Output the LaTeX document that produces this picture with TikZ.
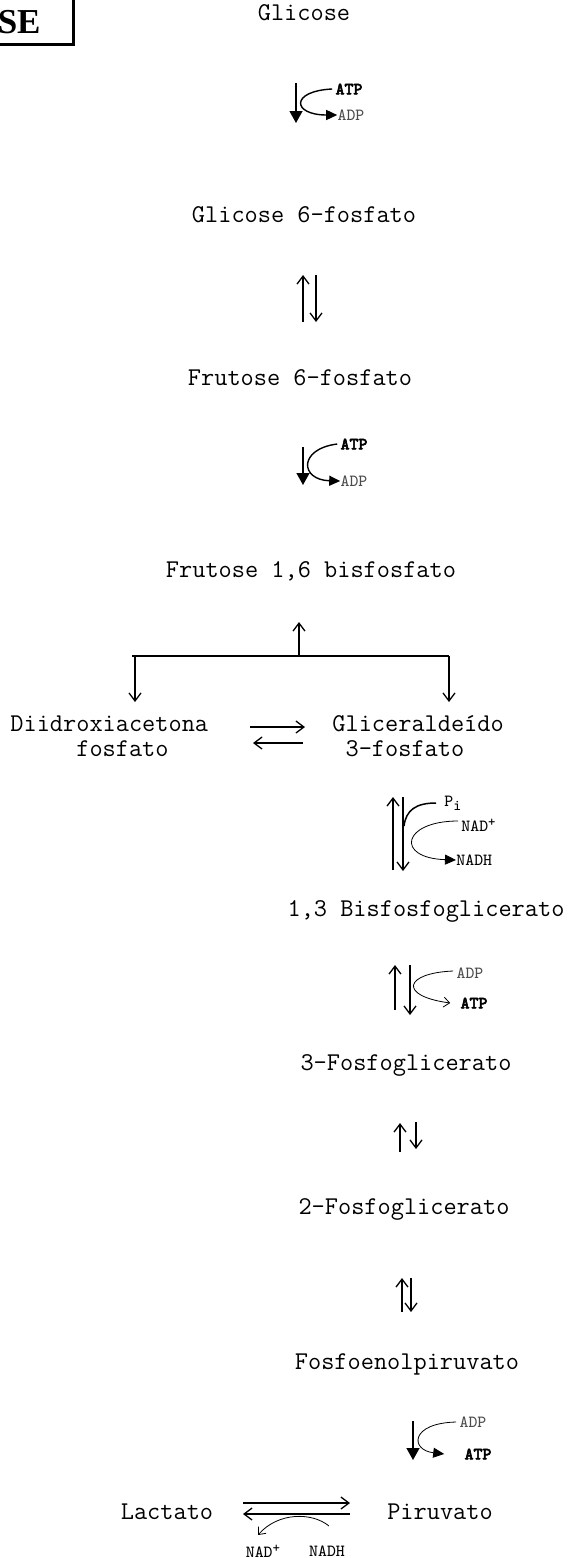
\documentclass[tikz,border=0pt]{standalone}
\usepackage{fontspec}
\newfontfamily\titlefont{Liberation Serif}
\usetikzlibrary{arrows.meta}
\newcommand\heavytxt[1]{\special{pdf:literal 2 Tr 0.3 w}#1\special{pdf:literal 0 Tr}}
\begin{document}
\begin{tikzpicture}[x=0.5pt,y=-0.5pt,
  met/.style={font=\ttfamily\fontsize{12.8}{12.6}\selectfont, inner sep=0pt},
  cof/.style={font=\ttfamily\fontsize{8.5}{9}\selectfont, inner sep=0pt},
  cofb/.style={font=\ttfamily\fontsize{8.5}{9}\selectfont, inner sep=0pt},
  cofg/.style={cof, text=black!70},
  rx/.style={line width=0.65pt},
  eq/.style={rx, -{Straight Barb[length=4pt,width=6pt,line width=0.65pt]}},
  irr/.style={rx, -{Triangle[length=6pt,width=6.5pt]}},
  cfill/.style={line width=0.7pt, -{Triangle[length=5.5pt,width=5pt]}},
  cthin/.style={line width=0.4pt, -{Triangle[length=5.5pt,width=5pt]}},
  copen/.style={line width=0.4pt, -{Straight Barb[length=3pt,width=5pt,line width=0.4pt]}},
]
\useasboundingbox (0,0) rectangle (581,1558);
% title box (cut off)
\draw[line width=1.5pt] (-10,-10) rectangle (73,44);
\node[anchor=east, inner sep=0pt, font=\titlefont\fontsize{17.5}{18}\selectfont\bfseries] (title) at (41,22) {SE};

% metabolites
\node[met] (glc) at (304,13) {Glicose};
\node[met] (g6p) at (304,215) {Glicose 6-fosfato};
\node[met] (f6p) at (300,378) {Frutose 6-fosfato};
\node[met] (f16) at (311,571) {Frutose 1,6 bisfosfato};
\node[met, anchor=west, align=left] (dhap) at (10,736) {Diidroxiacetona\\\phantom{xxxxx}fosfato};
\node[met, anchor=west, align=left] (g3p) at (332,736) {Gliceralde\'ido\\\phantom{x}3-fosfato};
\node[met] (bpg) at (426,911) {1,3 Bisfosfoglicerato};
\node[met] (pg3) at (406,1065) {3-Fosfoglicerato};
\node[met] (pg2) at (404,1209) {2-Fosfoglicerato};
\node[met] (pep) at (407,1364) {Fosfoenolpiruvato};
\node[met] (lac) at (167,1512) {Lactato};
\node[met] (pyr) at (440,1512) {Piruvato};

% step 1: Glicose -> G6P
\coordinate (s1a) at (296,83); \coordinate (s1b) at (296,123);
\draw[irr] (s1a) -- (s1b);
\node[cofb] (atp1) at (349,89) {\heavytxt{ATP}};
\node[cofg] (adp1) at (351,115) {ADP};
\draw[cfill] (atp1.west) ++(-3,0) coordinate (c1a) .. controls (290,91) and (292,115) .. (adp1.west);

% step 2: G6P <-> F6P
\coordinate (s2a) at (303,322); \coordinate (s2b) at (303,275);
\coordinate (s2c) at (316,275); \coordinate (s2d) at (316,322);
\draw[eq] (s2a) -- (s2b);
\draw[eq] (s2c) -- (s2d);

% step 3: F6P -> F1,6BP
\coordinate (s3a) at (303,447); \coordinate (s3b) at (303,485);
\draw[irr] (s3a) -- (s3b);
\node[cofb] (atp2) at (354,444) {\heavytxt{ATP}};
\node[cofg] (adp2) at (354,481) {ADP};
\draw[cfill] (atp2.west) ++(-3,0) coordinate (c2a) .. controls (298,449) and (300,480) .. (adp2.west);

% step 4: split
\coordinate (s4a) at (299,656); \coordinate (s4b) at (299,622);
\coordinate (s4l) at (132,656); \coordinate (s4r) at (449,656);
\coordinate (s4ld) at (135,702); \coordinate (s4lu) at (135,656);
\coordinate (s4rd) at (449,702);
\draw[eq] (s4a) -- (s4b);
\draw[rx] (s4l) -- (s4r);
\draw[eq] (s4lu) -- (s4ld);
\draw[eq] (s4r) -- (s4rd);

% DHAP <-> G3P
\coordinate (e1a) at (250,727); \coordinate (e1b) at (305,727);
\coordinate (e2a) at (303,743); \coordinate (e2b) at (253,743);
\draw[eq] (e1a) -- (e1b);
\draw[eq] (e2a) -- (e2b);

% G3P <-> 1,3BPG
\coordinate (s5a) at (393,870); \coordinate (s5b) at (393,797);
\coordinate (s5c) at (403,797); \coordinate (s5d) at (403,871);
\draw[eq] (s5a) -- (s5b);
\draw[eq] (s5c) -- (s5d);
\node[cof, anchor=west] (pi) at (444,803) {P\raisebox{-0.5ex}{\fontsize{7.5}{7}\selectfont i}};
\node[cof, anchor=west] (nad1) at (461,825) {NAD\raisebox{0.7ex}{\fontsize{7}{7}\selectfont +}};
\node[cof, anchor=west] (nadh1) at (456,860) {NADH};
\draw[line width=0.75pt] (pi.west) ++(-8,0) coordinate (c5a) .. controls (416,803) and (406,810) .. (404,826);
\coordinate (c5b) at (458,821);
\draw[cthin] (c5b) .. controls (402,821) and (395,858) .. (nadh1.west);

% 1,3BPG <-> 3PG
\coordinate (s6a) at (395,1010); \coordinate (s6b) at (395,965);
\coordinate (s6c) at (410,965); \coordinate (s6d) at (410,1015);
\draw[eq] (s6a) -- (s6b);
\draw[eq] (s6c) -- (s6d);
\node[cofg] (adp3) at (470,973) {ADP};
\node[cofb] (atp3) at (474,1003) {\heavytxt{ATP}};
\draw[copen] (adp3.west) ++(-3,-2) coordinate (c6a) .. controls (404,973) and (398,996) .. ([xshift=-5]atp3.west);

% 3PG <-> 2PG
\coordinate (s7a) at (400,1152); \coordinate (s7b) at (400,1123);
\coordinate (s7c) at (416,1122); \coordinate (s7d) at (416,1149);
\draw[eq] (s7a) -- (s7b);
\draw[eq] (s7c) -- (s7d);

% 2PG <-> PEP
\coordinate (s8a) at (402,1312); \coordinate (s8b) at (402,1278);
\coordinate (s8c) at (411,1278); \coordinate (s8d) at (411,1312);
\draw[eq] (s8a) -- (s8b);
\draw[eq] (s8c) -- (s8d);

% PEP -> Piruvato
\coordinate (s9a) at (413,1421); \coordinate (s9b) at (413,1460);
\draw[irr] (s9a) -- (s9b);
\node[cofg] (adp4) at (473,1422) {ADP};
\node[cofb] (atp4) at (478,1454) {\heavytxt{ATP}};
\draw[cthin] (adp4.west) ++(-3,0) coordinate (c9a) .. controls (410,1423) and (410,1450) .. ([xshift=-10]atp4.west);

% Lactato <-> Piruvato
\coordinate (l1a) at (243,1503); \coordinate (l1b) at (350,1503);
\coordinate (l2a) at (350,1514); \coordinate (l2b) at (243,1514);
\draw[eq] (l1a) -- (l1b);
\draw[eq] (l2a) -- (l2b);
\node[cof] (nad2) at (263,1551) {NAD\raisebox{0.7ex}{\fontsize{7}{7}\selectfont +}};
\node[cof] (nadh2) at (327,1551) {NADH};
\coordinate (lc) at (329,1526);
\draw[copen] (lc) .. controls (312,1512) and (278,1512) .. (258,1535);
\end{tikzpicture}
\end{document}
